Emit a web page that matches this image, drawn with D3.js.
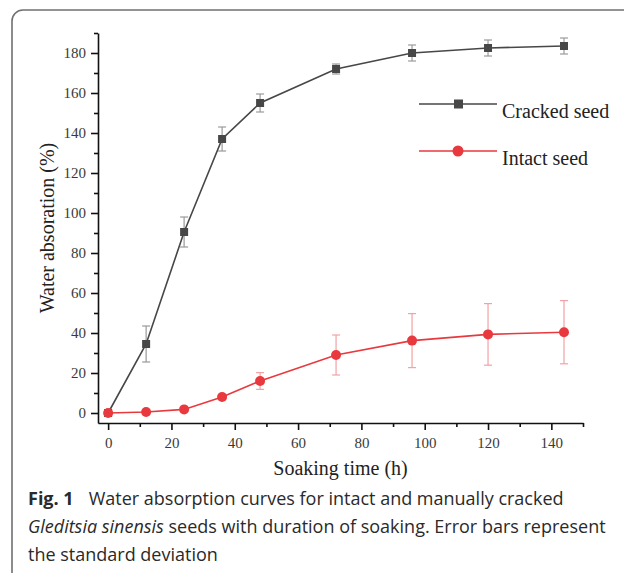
<!DOCTYPE html>
<html>
<head>
<meta charset="utf-8">
<script src="https://cdn.jsdelivr.net/npm/d3@7"></script>
<style>
  body { margin: 0; background: #fff; }
  svg { display: block; }
</style>
</head>
<body>
<div id="chart"></div>
<script>
// data
var hours = [0, 12, 24, 36, 48, 72, 96, 120, 144];
var cracked = [0, 34.5, 90.5, 137, 155, 172, 180, 182.5, 183.5];
var crackedSd = [0, 9, 7.5, 6, 4.5, 2.5, 4, 4, 4];
var intact = [0, 0.5, 1.8, 8, 16, 29, 36.2, 39.3, 40.4];
var intactSd = [0, 0, 0, 1, 4.2, 10, 13.5, 15.4, 15.8];
var xTicks = [0, 20, 40, 60, 80, 100, 120, 140];
var xMinor = [10, 30, 50, 70, 90, 110, 130, 150];
var yTicks = [0, 20, 40, 60, 80, 100, 120, 140, 160, 180];
var yMinor = [10, 30, 50, 70, 90, 110, 130, 150, 170, 190];

var width = 624, height = 573;
var margin = { top: 33, right: 41, bottom: 150, left: 98 };
var chartWidth = width - margin.left - margin.right;
var chartHeight = height - margin.top - margin.bottom;

var svg = d3.select("#chart").append("svg")
    .attr("width", width)
    .attr("height", height);

// rounded frame round the figure
svg.append("path")
    .attr("d", "M12,580 L12,21 A11,11 0 0 1 23,10 L630,10")
    .attr("fill", "none")
    .attr("stroke", "#707070")
    .attr("stroke-width", 1.6);

var chartGroup = svg.append("g")
    .attr("transform", `translate(${margin.left}, ${margin.top})`);

var x = d3.scaleLinear().domain([-3.2, 150]).range([0, chartWidth]);
var y = d3.scaleLinear().domain([-5, 190]).range([chartHeight, 0]);

var serif = "'Liberation Serif', 'Times New Roman', serif";

// minor ticks
chartGroup.append("g")
    .attr("class", "minor")
    .attr("transform", `translate(0, ${chartHeight})`)
    .call(d3.axisBottom(x).tickValues(xMinor).tickSize(4).tickFormat(""));
chartGroup.append("g")
    .attr("class", "minor")
    .call(d3.axisLeft(y).tickValues(yMinor).tickSize(4).tickFormat(""));
chartGroup.selectAll(".minor .domain").remove();

// major axes
chartGroup.append("g")
    .attr("transform", `translate(0, ${chartHeight})`)
    .call(d3.axisBottom(x).tickValues(xTicks).tickSize(7).tickSizeOuter(0).tickPadding(7));
chartGroup.append("g")
    .call(d3.axisLeft(y).tickValues(yTicks).tickSize(7).tickSizeOuter(0).tickPadding(5));

chartGroup.selectAll(".tick line, .domain")
    .attr("stroke", "#111")
    .attr("stroke-width", 1.6);
chartGroup.selectAll(".tick text")
    .attr("font-family", serif)
    .attr("font-size", 15)
    .attr("fill", "#3a3a3a");

// axis titles
svg.append("text")
    .attr("x", margin.left + chartWidth / 2)
    .attr("y", 475)
    .attr("text-anchor", "middle")
    .attr("font-family", serif)
    .attr("font-size", 20)
    .attr("fill", "#222")
    .text("Soaking time (h)");

svg.append("text")
    .attr("transform", `translate(54, ${margin.top + chartHeight / 2}) rotate(-90)`)
    .attr("text-anchor", "middle")
    .attr("font-family", serif)
    .attr("font-size", 20)
    .attr("fill", "#222")
    .text("Water absoration (%)");

var series = [
  { name: "Cracked seed", values: cracked, sd: crackedSd, color: "#474747", err: "#9a9a9a", shape: "square" },
  { name: "Intact seed", values: intact, sd: intactSd, color: "#e8393e", err: "#f2a2a5", shape: "circle" }
];

var line = d3.line()
    .x(d => x(d.t))
    .y(d => y(d.v));

series.forEach(function(s) {
  var pts = hours.map((t, i) => ({ t: t, v: s.values[i], sd: s.sd[i] }));
  var g = chartGroup.append("g");

  // error bars
  var eb = g.selectAll(".err")
      .data(pts.filter(d => d.sd > 0))
      .enter().append("g")
      .attr("stroke", s.err)
      .attr("stroke-width", 1.2);
  eb.append("line")
      .attr("x1", d => x(d.t)).attr("x2", d => x(d.t))
      .attr("y1", d => y(d.v + d.sd)).attr("y2", d => y(d.v - d.sd));
  eb.append("line")
      .attr("x1", d => x(d.t) - 4).attr("x2", d => x(d.t) + 4)
      .attr("y1", d => y(d.v + d.sd)).attr("y2", d => y(d.v + d.sd));
  eb.append("line")
      .attr("x1", d => x(d.t) - 4).attr("x2", d => x(d.t) + 4)
      .attr("y1", d => y(d.v - d.sd)).attr("y2", d => y(d.v - d.sd));

  g.append("path")
      .datum(pts)
      .attr("d", line)
      .attr("fill", "none")
      .attr("stroke", s.color)
      .attr("stroke-width", 1.6);

  if (s.shape === "square") {
    g.selectAll("rect")
        .data(pts)
        .enter().append("rect")
        .attr("x", d => x(d.t) - 4)
        .attr("y", d => y(d.v) - 4)
        .attr("width", 8)
        .attr("height", 8)
        .attr("fill", s.color);
  } else {
    g.selectAll("circle")
        .data(pts)
        .enter().append("circle")
        .attr("cx", d => x(d.t))
        .attr("cy", d => y(d.v))
        .attr("r", 5)
        .attr("fill", s.color);
  }
});

// legend
var legend = svg.append("g");
series.forEach(function(s, i) {
  var ly = 104 + i * 47;
  legend.append("line")
      .attr("x1", 419).attr("x2", 497)
      .attr("y1", ly).attr("y2", ly)
      .attr("stroke", s.color)
      .attr("stroke-width", 1.6);
  if (s.shape === "square") {
    legend.append("rect")
        .attr("x", 454).attr("y", ly - 4.5)
        .attr("width", 9).attr("height", 9)
        .attr("fill", s.color);
  } else {
    legend.append("circle")
        .attr("cx", 458).attr("cy", ly)
        .attr("r", 5.5)
        .attr("fill", s.color);
  }
  legend.append("text")
      .attr("x", 502)
      .attr("y", ly + 14)
      .attr("font-family", serif)
      .attr("font-size", 20)
      .attr("fill", "#222")
      .text(s.name);
});

// caption
var sans = "'Open Sans', 'Noto Sans', sans-serif";
var cap = svg.append("g")
    .attr("font-family", sans)
    .attr("font-size", 18)
    .attr("fill", "#2a2a2a");

var l1 = cap.append("text").attr("x", 28).attr("y", 505);
l1.append("tspan").attr("font-weight", "bold").text("Fig. 1");
l1.append("tspan").attr("dx", 15).text("Water absorption curves for intact and manually cracked");

var l2 = cap.append("text").attr("x", 28).attr("y", 533);
l2.append("tspan").attr("font-style", "italic").text("Gleditsia sinensis");
l2.append("tspan").text(" seeds with duration of soaking. Error bars represent");

cap.append("text").attr("x", 28).attr("y", 561).text("the standard deviation");
</script>
</body>
</html>
